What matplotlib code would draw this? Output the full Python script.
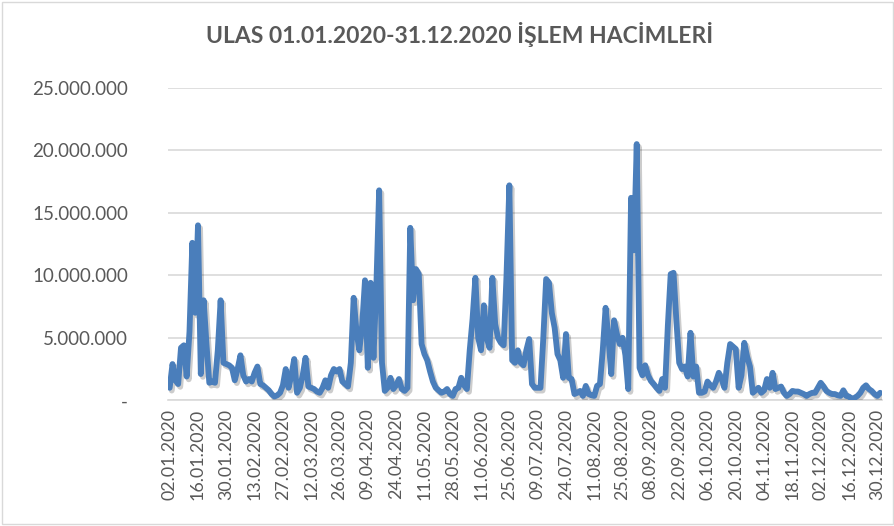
from matplotlib import pyplot as plt
from matplotlib import patheffects as pe
from matplotlib.patches import Rectangle
import numpy as np
import pandas as pd

plt.rcParams['font.family'] = ['Lato', 'DejaVu Sans']

# BIST holidays in 2020 (market closed)
holidays = ["2020-01-01", "2020-04-23", "2020-05-01", "2020-05-19", "2020-05-25",
            "2020-05-26", "2020-07-15", "2020-07-30", "2020-07-31", "2020-10-29"]

# daily volume, millions of TL
volume = [
    1.0, 2.9, 1.6, 1.3, 4.2, 4.4, 1.9, 5.5, 12.6, 7.0,
    14.0, 2.1, 8.0, 4.5, 1.4, 1.5, 1.4, 4.0, 8.0, 3.0,
    2.9, 2.8, 2.6, 1.6, 2.5, 3.6, 2.0, 1.5, 1.7, 1.5,
    2.2, 2.7, 1.3, 1.2, 1.0, 0.8, 0.5, 0.3, 0.4, 0.6,
    1.2, 2.5, 1.0, 2.0, 3.3, 0.6, 1.0, 2.0, 3.4, 1.1,
    1.0, 0.9, 0.7, 0.6, 1.0, 1.6, 1.0, 2.0, 2.5, 2.3,
    2.5, 1.5, 1.3, 1.1, 3.0, 8.2, 5.5, 4.0, 6.0, 9.6,
    2.6, 9.4, 3.4, 9.0, 16.8, 3.0, 0.75, 1.0, 1.8, 0.9,
    1.2, 1.7, 0.9, 0.75, 1.0, 13.8, 8.0, 10.5, 10.1, 4.5,
    3.7, 3.2, 2.3, 1.5, 1.0, 0.8, 0.6, 0.7, 0.9, 0.5,
    0.35, 0.9, 1.0, 1.8, 1.2, 0.9, 4.0, 6.5, 9.8, 5.0,
    4.0, 7.6, 5.0, 4.2, 9.8, 6.1, 5.0, 4.6, 4.4, 10.0,
    17.2, 3.2, 3.0, 4.0, 3.0, 2.8, 4.0, 4.9, 1.3, 1.0,
    1.0, 1.0, 5.0, 9.7, 9.4, 7.0, 5.8, 3.7, 3.2, 1.8,
    5.3, 1.8, 1.7, 0.5, 0.6, 0.75, 0.35, 1.15, 0.5, 0.4,
    0.35, 1.15, 1.3, 4.0, 7.4, 5.0, 2.1, 6.4, 5.3, 4.5,
    5.0, 3.6, 0.9, 16.2, 12.0, 20.5, 2.6, 2.0, 2.8, 2.0,
    1.55, 1.3, 1.0, 0.75, 1.7, 1.0, 6.0, 10.1, 10.2, 6.4,
    3.0, 2.5, 2.7, 1.9, 5.4, 1.9, 2.7, 0.6, 0.6, 0.7,
    1.5, 1.2, 1.0, 1.5, 2.2, 1.7, 1.0, 3.0, 4.5, 4.3,
    4.1, 1.0, 2.0, 4.6, 3.5, 2.7, 0.6, 0.8, 1.0, 0.6,
    0.8, 1.7, 1.0, 2.2, 0.9, 1.0, 1.1, 0.6, 0.35, 0.5,
    0.75, 0.7, 0.7, 0.6, 0.5, 0.35, 0.5, 0.6, 0.6, 1.0,
    1.4, 1.1, 0.75, 0.6, 0.5, 0.5, 0.4, 0.35, 0.8, 0.35,
    0.3, 0.1, 0.2, 0.35, 0.6, 1.0, 1.2, 0.9, 0.75, 0.5,
    0.35, 0.6,
]

days = pd.bdate_range("2020-01-01", "2020-12-31")
days = days[~days.isin(pd.to_datetime(holidays))]
labels = [d.strftime("%d.%m.%Y") for d in days]

y_ticks = [0, 5e6, 10e6, 15e6, 20e6, 25e6]
y_labels = ["-", "5.000.000", "10.000.000", "15.000.000", "20.000.000", "25.000.000"]

txt = "#595959"
grid = "#D9D9D9"

fig = plt.figure(figsize=(8.95, 5.26), dpi=100)
ax = fig.add_axes([0.188, 0.239, 0.797, 0.594])

x = np.arange(len(volume))
y = np.array(volume) * 1e6
ax.plot(x, y, color="#4A7EBB", lw=4.2, solid_joinstyle="round", solid_capstyle="round",
        path_effects=[pe.SimpleLineShadow(offset=(1.5, -2), shadow_color="k", alpha=0.2),
                      pe.Normal()], zorder=3)

ax.set_xlim(-0.5, len(volume) - 0.5)
ax.set_ylim(0, 25e6)
ax.set_yticks(y_ticks)
ax.set_yticklabels(y_labels, fontsize=13.5, color=txt)
ax.set_xticks(x[::10])
ax.set_xticklabels(labels[::10], rotation=90, fontsize=12.8, color=txt)
ax.tick_params(axis="both", length=0, pad=6)
ax.tick_params(axis="y", pad=29)
for t in ax.get_yticklabels():
    t.set_horizontalalignment("right")

ax.grid(axis="y", color=grid, lw=1.2)
ax.set_axisbelow(True)
for s in ["top", "right", "left"]:
    ax.spines[s].set_visible(False)
ax.spines["bottom"].set_color(grid)
ax.spines["bottom"].set_linewidth(1.2)

fig.text(0.514, 0.935, "ULAS 01.01.2020-31.12.2020 İŞLEM HACİMLERİ", ha="center", va="center",
         fontsize=16.5, fontweight="bold", color=txt)

fig.patches.append(Rectangle((0.002, 0.003), 0.996, 0.994, transform=fig.transFigure,
                             fill=False, edgecolor=grid, lw=1))

fig.savefig("out.png", dpi=100)
